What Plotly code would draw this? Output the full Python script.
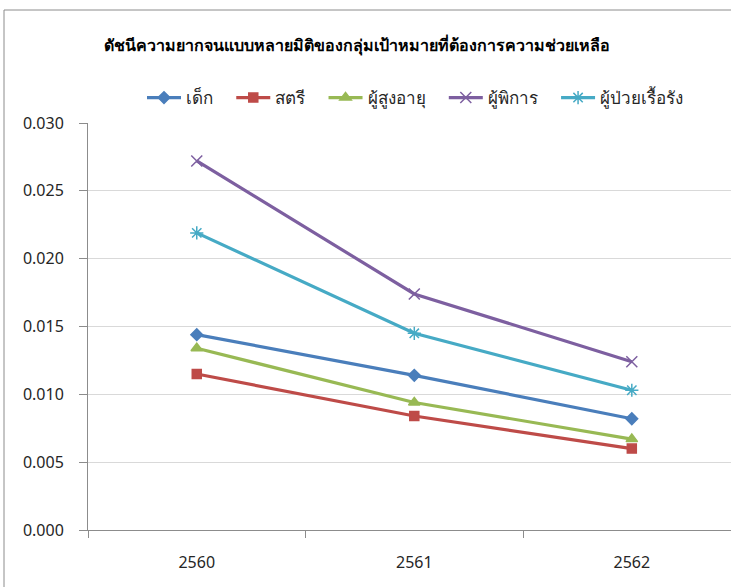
import plotly.graph_objects as go

years = ["2560", "2561", "2562"]
series_names = ["เด็ก", "สตรี", "ผู้สูงอายุ", "ผู้พิการ", "ผู้ป่วยเรื้อรัง"]
children = [0.0144, 0.0114, 0.0082]
women = [0.0115, 0.0084, 0.0060]
elderly = [0.0134, 0.0094, 0.0067]
disabled = [0.0272, 0.0174, 0.0124]
chronic = [0.0219, 0.0145, 0.0103]
y_ticks = [0.000, 0.005, 0.010, 0.015, 0.020, 0.025, 0.030]

values = [children, women, elderly, disabled, chronic]
colors = ["#4A7EBB", "#BE4B48", "#98B954", "#7D5FA0", "#46AAC5"]
symbols = ["diamond", "square", "triangle-up", "x-thin-open", "asterisk-open"]
msizes = [9, 9, 10, 11, 11]
pad = "\u00a0\u00a0\u00a0"

FONT = "Noto Sans, DejaVu Sans, sans-serif"

fig = go.Figure()
for i, (name, vals, c, s, ms) in enumerate(zip(series_names, values, colors, symbols, msizes)):
    fig.add_trace(go.Scatter(
        x=years, y=vals, name=name + (pad if i < len(series_names) - 1 else ""),
        mode="lines+markers",
        line=dict(color=c, width=3.2),
        marker=dict(symbol=s, size=ms, color=c, line=dict(color=c, width=1.5)),
    ))

W, H = 731, 587
L, R, T, B = 88, 0, 123, 57
pw, ph = W - L - R, H - T - B

def px_x(x):
    return (x - L) / pw

def px_y(y):
    return (H - B - y) / ph

fig.add_shape(type="rect", xref="paper", yref="paper",
              x0=px_x(4), x1=px_x(760), y0=px_y(10), y1=px_y(620),
              line=dict(color="#8C8C8C", width=1), fillcolor="rgba(0,0,0,0)", layer="above")

fig.update_layout(
    width=W, height=H,
    margin=dict(l=L, r=R, t=T, b=B),
    paper_bgcolor="white", plot_bgcolor="white",
    font=dict(family=FONT, color="#262626", size=15),
    title=dict(text="<b>ดัชนีความยากจนแบบหลายมิติของกลุ่มเป้าหมายที่ต้องการความช่วยเหลือ</b>",
               xref="container", x=357 / W, xanchor="center", y=1 - 45 / H, yanchor="middle",
               font=dict(size=16, color="#000000")),
    legend=dict(orientation="h", x=px_x(142), xanchor="left", y=px_y(98), yanchor="middle",
                font=dict(size=17, color="#262626"), bgcolor="rgba(0,0,0,0)",
                itemwidth=34, tracegroupgap=0),
    showlegend=True,
    xaxis=dict(type="category", range=[-0.5, 2.456], tickson="boundaries",
               ticks="outside", ticklen=7, tickcolor="#8C8C8C",
               showline=True, linecolor="#8C8C8C", linewidth=1,
               showgrid=False, ticklabelstandoff=18,
               tickfont=dict(size=16, color="#262626")),
    yaxis=dict(range=[0, 0.030], tickvals=y_ticks, tickformat=".3f",
               ticks="outside", ticklen=8, tickcolor="#8C8C8C",
               showline=True, linecolor="#8C8C8C", linewidth=1,
               showgrid=True, gridcolor="#D9D9D9", gridwidth=1,
               zeroline=False, ticklabelstandoff=12,
               tickfont=dict(size=16, color="#262626")),
)

fig.write_html("out.html", config={"displayModeBar": False},
               post_script="document.body.style.margin='0';")
